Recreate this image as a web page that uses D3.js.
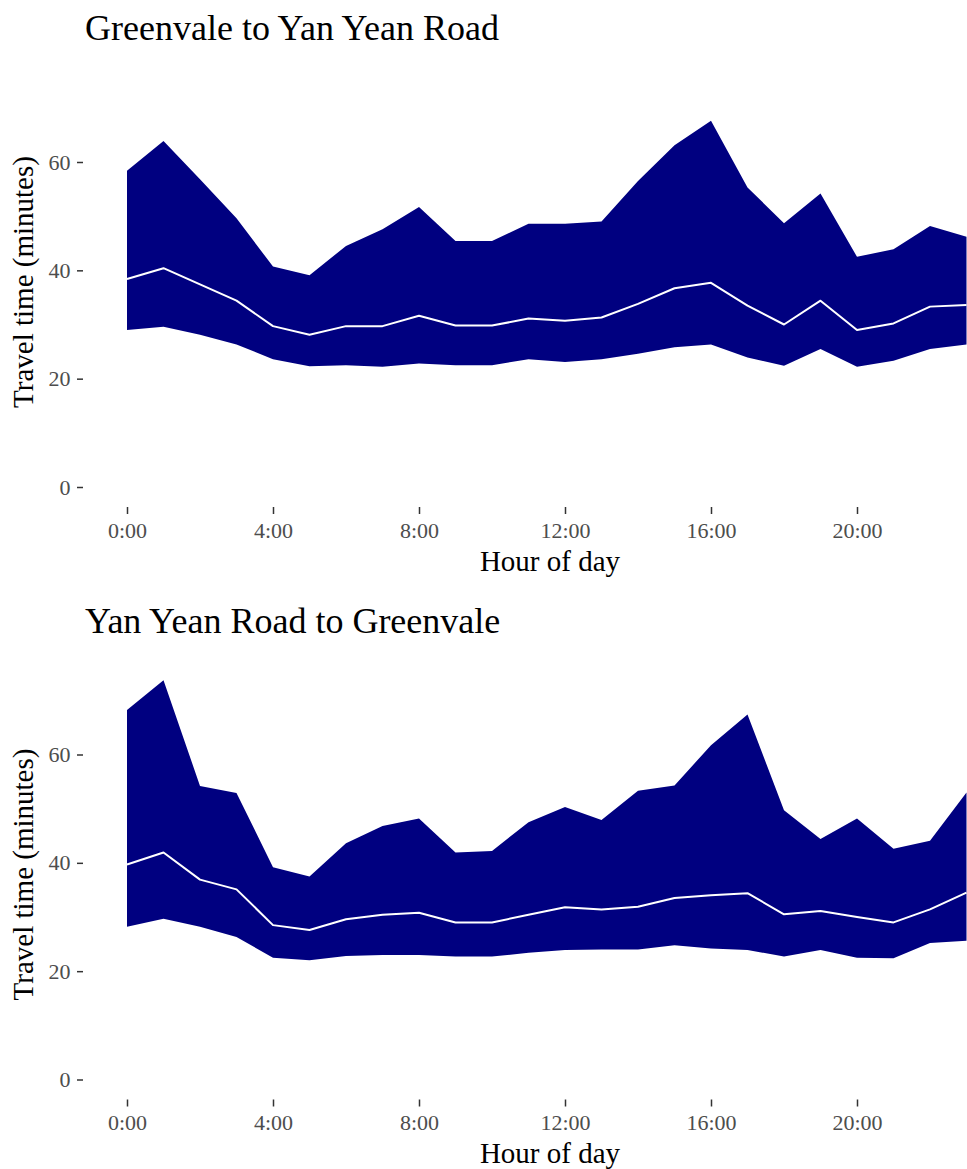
<!DOCTYPE html>
<html>
<head>
<meta charset="utf-8">
<script src="https://cdn.jsdelivr.net/npm/d3@7"></script>
<style>
  html, body { margin: 0; padding: 0; background: #fff; }
  svg { display: block; }
  text { font-family: "Liberation Serif", "Times New Roman", serif; }
</style>
</head>
<body>
<svg id="chart" width="967" height="1169"></svg>
<script>
// Data
const hours = d3.range(0, 24);
const xTickValues = [0, 4, 8, 12, 16, 20];
const xTickLabels = ["0:00", "4:00", "8:00", "12:00", "16:00", "20:00"];
const yTickValues = [0, 20, 40, 60];

const titles = ["Greenvale to Yan Yean Road", "Yan Yean Road to Greenvale"];

const upperA = [58.4, 63.9, 56.8, 49.6, 40.7, 39.1, 44.5, 47.6, 51.7, 45.4, 45.4, 48.6,
                48.6, 49.0, 56.5, 63.1, 67.6, 55.3, 48.7, 54.2, 42.5, 43.9, 48.2, 46.2];
const medianA = [38.4, 40.4, 37.4, 34.4, 29.7, 28.1, 29.7, 29.7, 31.6, 29.8, 29.8, 31.1,
                 30.7, 31.3, 33.8, 36.7, 37.7, 33.5, 30.0, 34.4, 29.0, 30.2, 33.3, 33.6];
const lowerA = [29.0, 29.6, 28.1, 26.3, 23.6, 22.3, 22.5, 22.2, 22.8, 22.5, 22.5, 23.6,
                23.1, 23.6, 24.6, 25.8, 26.3, 23.9, 22.4, 25.5, 22.2, 23.3, 25.5, 26.3];

const upperB = [68.2, 73.7, 54.2, 52.9, 39.2, 37.5, 43.6, 46.8, 48.2, 41.9, 42.2, 47.5,
                50.3, 47.9, 53.3, 54.3, 61.7, 67.4, 49.7, 44.4, 48.2, 42.6, 44.1, 53.0];
const medianB = [39.7, 41.9, 36.9, 35.1, 28.5, 27.6, 29.6, 30.4, 30.8, 29.0, 29.0, 30.4,
                 31.8, 31.4, 31.9, 33.5, 34.0, 34.4, 30.5, 31.1, 30.0, 29.0, 31.4, 34.5];
const lowerB = [28.2, 29.7, 28.2, 26.3, 22.5, 22.0, 22.8, 23.0, 23.0, 22.7, 22.7, 23.4,
                23.9, 24.0, 24.0, 24.8, 24.2, 23.9, 22.7, 23.9, 22.5, 22.4, 25.2, 25.6];

const panels = [
  { title: titles[0], upper: upperA, median: medianA, lower: lowerA, y0: 487, y60: 162 },
  { title: titles[1], upper: upperB, median: medianB, lower: lowerB, y0: 1079.5, y60: 754.5 }
];

const svg = d3.select("#chart");
const x = d3.scaleLinear().domain([0, 23]).range([127, 966.5]);

panels.forEach((p, i) => {
  const g = svg.append("g");
  const y = d3.scaleLinear().domain([0, 60]).range([p.y0, p.y60]);
  const rows = hours.map((h, k) => ({ h, lo: p.lower[k], md: p.median[k], hi: p.upper[k] }));

  // ribbon
  g.append("path")
    .datum(rows)
    .attr("fill", "#000080")
    .attr("d", d3.area().x(d => x(d.h)).y0(d => y(d.lo)).y1(d => y(d.hi)));

  // median line
  g.append("path")
    .datum(rows)
    .attr("fill", "none")
    .attr("stroke", "#ffffff")
    .attr("stroke-width", 2)
    .attr("stroke-linejoin", "round")
    .attr("d", d3.line().x(d => x(d.h)).y(d => y(d.md)));

  // y axis
  const yAxis = d3.axisLeft(y).tickValues(yTickValues).tickSize(6).tickPadding(6.5).tickFormat(d3.format("d"));
  const ya = g.append("g").attr("transform", `translate(83,0)`).call(yAxis);
  ya.select(".domain").remove();
  ya.selectAll(".tick line").attr("stroke", "#333333").attr("stroke-width", 1.5);
  ya.selectAll(".tick text").attr("fill", "#4d4d4d").style("font-size", "22px")
    .style("font-family", "Liberation Serif, serif");

  // x axis
  const xAxis = d3.axisBottom(x).tickValues(xTickValues).tickSize(7).tickPadding(8)
    .tickFormat((d, k) => xTickLabels[k]);
  const xa = g.append("g").attr("transform", `translate(0,${p.y0 + 20})`).call(xAxis);
  xa.select(".domain").remove();
  xa.selectAll(".tick line").attr("stroke", "#333333").attr("stroke-width", 1.5);
  xa.selectAll(".tick text").attr("fill", "#4d4d4d").style("font-size", "22px")
    .style("font-family", "Liberation Serif, serif");

  // titles
  g.append("text")
    .attr("x", 85).attr("y", p.y0 - 447)
    .style("font-size", "36px").attr("fill", "#000")
    .text(p.title);

  g.append("text")
    .attr("x", 550).attr("y", p.y0 + 83.5)
    .attr("text-anchor", "middle")
    .style("font-size", "29px").attr("fill", "#000")
    .text("Hour of day");

  g.append("text")
    .attr("transform", `translate(33,${p.y0 - 205}) rotate(-90)`)
    .attr("text-anchor", "middle")
    .style("font-size", "29px").attr("fill", "#000")
    .text("Travel time (minutes)");
});
</script>
</body>
</html>
